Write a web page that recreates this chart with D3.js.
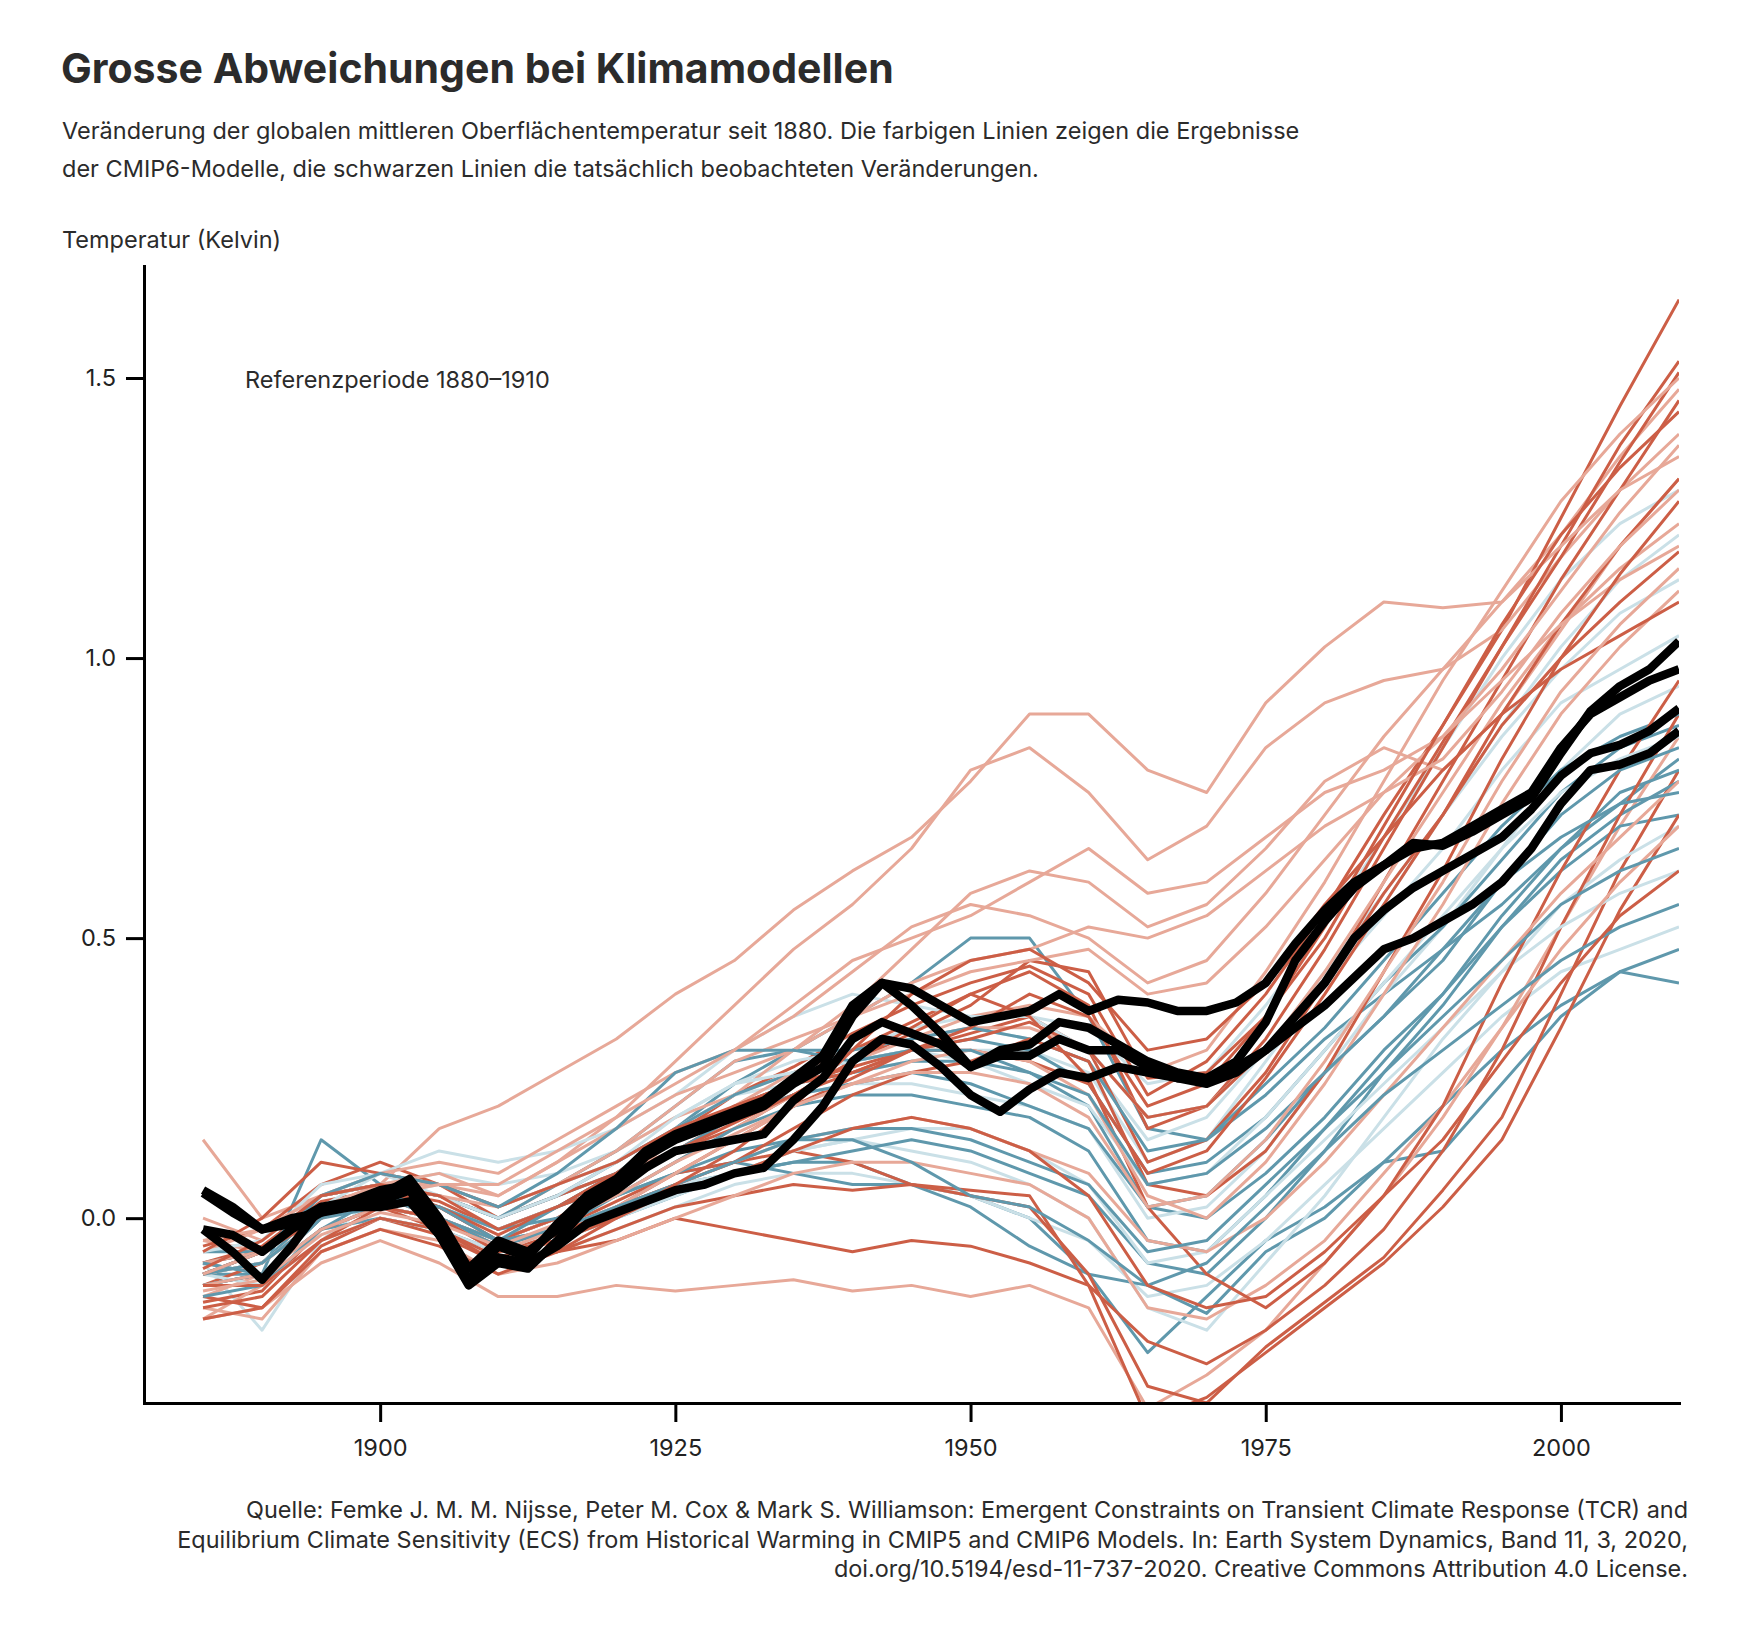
<!DOCTYPE html>
<html>
<head>
<meta charset="utf-8">
<title>Grosse Abweichungen bei Klimamodellen</title>
<script src="https://cdn.jsdelivr.net/npm/d3@7"></script>
<style>
  body {margin: 0; background: #fff;}
  svg {display: block; font-family: Inter, "Noto Sans", sans-serif;}
  .title {font-size: 41px; font-weight: 700; fill: #2b2b2b;}
  .sub {font-size: 23.5px; fill: #2b2b2b;}
  .foot {font-size: 23.45px; fill: #2b2b2b;}
  .axis text {font-size: 23.5px; fill: #222; font-family: Inter, "Noto Sans", sans-serif;}
  .axis path, .axis line {stroke: #000; stroke-width: 3px;}
  .model {fill: none; stroke-width: 3px; stroke-linejoin: round;}
  .obs {fill: none; stroke: #000; stroke-width: 8.5px; stroke-linejoin: round;}
</style>
</head>
<body>
<script>
var W = 1759, H = 1643;

// model years (5-year steps)
var years = [1885, 1890, 1895, 1900, 1905, 1910, 1915, 1920, 1925, 1930, 1935, 1940, 1945,
             1950, 1955, 1960, 1965, 1970, 1975, 1980, 1985, 1990, 1995, 2000, 2005, 2010];

var darkRed = [
  [-0.08,-0.05,0.03,0.05,0.03,-0.02,0.02,0.08,0.15,0.22,0.27,0.33,0.38,0.42,0.45,0.40,0.22,0.28,0.40,0.55,0.72,0.88,1.05,1.25,1.45,1.64],
  [-0.12,-0.08,0.00,0.06,0.02,-0.04,0.00,0.05,0.12,0.18,0.24,0.30,0.35,0.40,0.44,0.38,0.16,0.20,0.32,0.48,0.66,0.84,1.02,1.20,1.38,1.53],
  [-0.05,-0.02,0.06,0.10,0.06,0.00,0.04,0.08,0.12,0.16,0.22,0.28,0.33,0.38,0.46,0.44,0.25,0.26,0.36,0.50,0.68,0.85,1.02,1.18,1.35,1.51],
  [-0.15,-0.13,-0.02,0.02,0.00,-0.06,-0.03,0.02,0.08,0.14,0.20,0.25,0.30,0.33,0.36,0.30,0.10,0.14,0.26,0.42,0.60,0.78,0.96,1.14,1.30,1.46],
  [-0.10,-0.06,0.02,0.04,0.00,-0.05,-0.02,0.03,0.08,0.10,0.12,0.10,0.06,0.04,0.02,-0.10,-0.30,-0.33,-0.23,-0.15,-0.07,0.05,0.18,0.40,0.62,0.80],
  [-0.14,-0.16,-0.05,0.00,-0.03,-0.08,-0.06,-0.02,0.02,0.04,0.06,0.05,0.06,0.05,0.04,-0.12,-0.36,-0.32,-0.24,-0.16,-0.08,0.02,0.14,0.34,0.55,0.72],
  [-0.12,-0.10,-0.02,0.02,-0.02,-0.08,-0.06,-0.04,0.00,-0.02,-0.04,-0.06,-0.04,-0.05,-0.08,-0.12,-0.22,-0.26,-0.20,-0.12,-0.02,0.12,0.30,0.52,0.72,0.90],
  [-0.08,-0.06,0.02,0.04,0.02,-0.04,0.00,0.06,0.12,0.18,0.22,0.28,0.34,0.40,0.36,0.25,0.02,-0.10,-0.16,-0.08,0.04,0.20,0.42,0.62,0.80,0.96],
  [-0.10,-0.06,0.00,0.05,0.02,-0.03,0.02,0.08,0.14,0.20,0.24,0.27,0.30,0.30,0.28,0.24,0.08,0.12,0.25,0.40,0.56,0.72,0.90,1.06,1.20,1.32],
  [-0.16,-0.14,-0.04,0.00,-0.02,-0.07,-0.04,0.02,0.06,0.10,0.16,0.22,0.26,0.28,0.32,0.28,0.06,0.04,0.12,0.26,0.44,0.62,0.82,1.00,1.15,1.28],
  [-0.06,0.00,0.10,0.08,0.06,0.02,0.06,0.10,0.16,0.20,0.24,0.26,0.30,0.32,0.35,0.30,0.18,0.20,0.30,0.42,0.58,0.72,0.88,1.00,1.10,1.19],
  [-0.12,-0.12,-0.04,0.02,0.00,-0.06,-0.04,0.00,0.06,0.12,0.20,0.30,0.40,0.46,0.48,0.42,0.30,0.32,0.42,0.56,0.68,0.80,0.90,0.98,1.04,1.10],
  [-0.18,-0.16,-0.06,-0.02,-0.05,-0.10,-0.06,0.00,0.05,0.08,0.12,0.16,0.18,0.16,0.12,0.04,-0.12,-0.16,-0.14,-0.06,0.04,0.14,0.28,0.42,0.54,0.62],
  [-0.09,-0.04,0.04,0.06,0.04,-0.02,0.02,0.06,0.12,0.17,0.22,0.26,0.30,0.34,0.40,0.36,0.20,0.24,0.36,0.52,0.70,0.88,1.06,1.22,1.34,1.44]
];

var lightRed = [
  [0.14,0.00,0.04,0.06,0.16,0.20,0.26,0.32,0.40,0.46,0.55,0.62,0.68,0.78,0.90,0.90,0.80,0.76,0.92,1.02,1.10,1.09,1.10,1.22,1.36,1.48],
  [0.00,-0.04,0.04,0.06,0.06,0.04,0.10,0.18,0.28,0.38,0.48,0.56,0.66,0.80,0.84,0.76,0.64,0.70,0.84,0.92,0.96,0.98,1.05,1.18,1.30,1.40],
  [-0.04,-0.06,0.02,0.06,0.04,0.00,0.06,0.12,0.18,0.22,0.30,0.38,0.48,0.58,0.62,0.60,0.52,0.56,0.66,0.78,0.84,0.80,0.90,1.05,1.20,1.32],
  [-0.18,-0.16,-0.08,-0.04,-0.08,-0.14,-0.14,-0.12,-0.13,-0.12,-0.11,-0.13,-0.12,-0.14,-0.12,-0.16,-0.34,-0.28,-0.20,-0.08,0.04,0.18,0.34,0.52,0.70,0.86],
  [-0.18,-0.12,-0.02,0.02,0.00,-0.04,0.00,0.04,0.10,0.16,0.22,0.28,0.32,0.36,0.38,0.36,0.26,0.30,0.44,0.60,0.78,0.96,1.12,1.28,1.40,1.50],
  [-0.14,-0.10,0.00,0.04,0.02,-0.04,0.00,0.06,0.14,0.20,0.26,0.30,0.32,0.34,0.34,0.30,0.18,0.20,0.30,0.44,0.60,0.76,0.92,1.06,1.16,1.24],
  [-0.06,-0.02,0.04,0.08,0.10,0.08,0.14,0.20,0.26,0.30,0.36,0.44,0.52,0.56,0.54,0.50,0.42,0.46,0.58,0.72,0.86,0.98,1.10,1.20,1.30,1.36],
  [-0.16,-0.18,-0.06,-0.02,-0.04,-0.10,-0.08,-0.04,0.00,0.04,0.08,0.10,0.10,0.08,0.06,0.00,-0.16,-0.18,-0.12,-0.04,0.08,0.20,0.34,0.48,0.60,0.70],
  [-0.10,-0.08,0.00,0.04,0.00,-0.06,-0.02,0.02,0.06,0.10,0.14,0.16,0.18,0.16,0.12,0.08,-0.04,-0.06,0.00,0.10,0.22,0.34,0.46,0.58,0.68,0.78],
  [-0.08,-0.06,0.02,0.06,0.04,0.02,0.06,0.12,0.20,0.28,0.32,0.36,0.40,0.44,0.46,0.48,0.40,0.42,0.52,0.64,0.76,0.86,0.96,1.06,1.14,1.20],
  [-0.12,-0.10,-0.02,0.02,0.00,-0.06,-0.04,0.02,0.08,0.14,0.20,0.24,0.28,0.30,0.28,0.22,0.04,0.00,0.10,0.24,0.40,0.56,0.74,0.90,1.02,1.12],
  [-0.04,-0.02,0.04,0.06,0.08,0.04,0.10,0.16,0.22,0.26,0.30,0.36,0.42,0.46,0.48,0.52,0.50,0.54,0.62,0.70,0.76,0.82,0.94,1.08,1.20,1.30],
  [-0.10,-0.06,0.02,0.04,0.06,0.06,0.12,0.18,0.24,0.30,0.38,0.46,0.50,0.54,0.60,0.66,0.58,0.60,0.68,0.76,0.80,0.86,0.98,1.12,1.26,1.38],
  [-0.13,-0.11,-0.03,0.01,-0.01,-0.05,-0.01,0.04,0.10,0.15,0.20,0.24,0.26,0.26,0.24,0.18,0.02,0.04,0.14,0.28,0.44,0.60,0.78,0.94,1.06,1.16]
];

var darkBlue = [
  [-0.10,-0.10,0.14,0.06,0.04,0.00,0.04,0.08,0.16,0.24,0.30,0.36,0.42,0.50,0.50,0.36,0.16,0.14,0.22,0.32,0.40,0.48,0.56,0.66,0.74,0.82],
  [-0.08,-0.10,0.00,0.04,0.00,-0.04,-0.02,0.02,0.06,0.08,0.10,0.10,0.06,0.04,0.00,-0.10,-0.24,-0.14,-0.04,0.02,0.10,0.20,0.30,0.38,0.44,0.48],
  [-0.12,-0.12,-0.02,0.02,0.00,-0.04,0.00,0.04,0.08,0.10,0.08,0.06,0.06,0.02,-0.05,-0.10,-0.12,-0.17,-0.06,0.00,0.10,0.12,0.24,0.36,0.44,0.42],
  [-0.10,-0.08,0.02,0.04,0.02,-0.02,0.02,0.08,0.14,0.20,0.24,0.26,0.28,0.28,0.26,0.20,0.02,0.00,0.08,0.18,0.30,0.40,0.52,0.62,0.70,0.72],
  [-0.06,-0.06,0.04,0.06,0.04,0.00,0.04,0.10,0.16,0.22,0.26,0.28,0.30,0.32,0.30,0.24,0.08,0.10,0.18,0.30,0.42,0.52,0.64,0.76,0.84,0.88],
  [-0.12,-0.10,0.00,0.02,0.00,-0.05,-0.02,0.04,0.10,0.16,0.20,0.22,0.22,0.20,0.18,0.12,-0.04,-0.06,0.04,0.16,0.28,0.40,0.54,0.66,0.76,0.80],
  [-0.14,-0.12,-0.02,0.00,-0.02,-0.06,-0.04,0.00,0.04,0.08,0.10,0.12,0.14,0.12,0.08,0.04,-0.08,-0.10,0.00,0.12,0.26,0.38,0.52,0.64,0.72,0.78],
  [-0.08,-0.06,0.04,0.06,0.04,0.00,0.06,0.12,0.20,0.28,0.30,0.30,0.32,0.34,0.32,0.28,0.12,0.14,0.24,0.34,0.46,0.58,0.70,0.80,0.86,0.90],
  [-0.10,-0.08,0.00,0.04,0.02,-0.02,0.00,0.04,0.08,0.12,0.14,0.14,0.10,0.04,0.02,-0.04,-0.12,-0.08,0.02,0.12,0.22,0.30,0.38,0.46,0.52,0.56],
  [-0.12,-0.10,-0.02,0.04,0.02,-0.04,0.02,0.06,0.12,0.18,0.22,0.24,0.26,0.24,0.20,0.16,0.02,0.04,0.14,0.26,0.36,0.46,0.60,0.72,0.80,0.84],
  [-0.08,-0.10,0.00,0.04,0.00,-0.04,-0.02,0.02,0.06,0.10,0.14,0.16,0.16,0.14,0.10,0.06,-0.06,-0.04,0.06,0.16,0.26,0.36,0.46,0.56,0.62,0.66],
  [-0.10,-0.06,0.04,0.08,0.06,0.02,0.08,0.16,0.26,0.30,0.30,0.28,0.30,0.30,0.26,0.22,0.06,0.08,0.16,0.26,0.36,0.48,0.60,0.68,0.74,0.76]
];

var lightBlue = [
  [-0.08,-0.20,-0.04,0.04,0.06,0.02,0.06,0.10,0.16,0.22,0.26,0.30,0.34,0.36,0.36,0.34,0.24,0.26,0.38,0.52,0.68,0.84,1.00,1.14,1.24,1.30],
  [-0.10,-0.08,0.02,0.06,0.08,0.06,0.08,0.12,0.18,0.24,0.28,0.30,0.32,0.34,0.32,0.28,0.14,0.18,0.30,0.44,0.58,0.72,0.86,0.98,1.08,1.14],
  [-0.12,-0.10,-0.02,0.00,-0.02,-0.08,-0.06,-0.02,0.02,0.06,0.08,0.08,0.06,0.04,0.00,-0.04,-0.14,-0.12,-0.04,0.06,0.16,0.26,0.36,0.44,0.48,0.52],
  [-0.06,-0.04,0.04,0.08,0.06,0.02,0.06,0.10,0.16,0.22,0.24,0.26,0.28,0.30,0.30,0.26,0.10,0.14,0.28,0.42,0.56,0.72,0.88,1.02,1.14,1.22],
  [-0.10,-0.08,0.00,0.04,0.02,-0.02,0.02,0.06,0.12,0.18,0.22,0.24,0.24,0.22,0.20,0.16,0.00,0.02,0.12,0.26,0.40,0.52,0.66,0.80,0.90,0.95],
  [-0.12,-0.12,-0.02,0.02,0.00,-0.06,-0.02,0.02,0.06,0.08,0.12,0.14,0.12,0.10,0.06,0.00,-0.16,-0.20,-0.08,0.04,0.18,0.32,0.44,0.56,0.64,0.70],
  [-0.08,-0.06,0.02,0.08,0.12,0.10,0.12,0.16,0.22,0.30,0.36,0.40,0.38,0.36,0.36,0.30,0.18,0.20,0.30,0.42,0.54,0.66,0.80,0.92,0.98,1.04],
  [-0.10,-0.12,-0.04,0.00,-0.02,-0.06,-0.04,0.00,0.04,0.08,0.12,0.14,0.16,0.16,0.12,0.06,-0.08,-0.06,0.04,0.14,0.24,0.34,0.44,0.52,0.58,0.62],
  [-0.06,-0.04,0.06,0.08,0.04,0.00,0.04,0.10,0.18,0.24,0.26,0.28,0.30,0.28,0.24,0.20,0.06,0.08,0.18,0.30,0.42,0.54,0.66,0.76,0.82,0.86]
];

// observations (2.5-year steps)
var obsYears = [1885, 1887.5, 1890, 1892.5, 1895, 1897.5, 1900, 1902.5, 1905, 1907.5, 1910, 1912.5, 1915,
                1917.5, 1920, 1922.5, 1925, 1927.5, 1930, 1932.5, 1935, 1937.5, 1940, 1942.5, 1945, 1947.5,
                1950, 1952.5, 1955, 1957.5, 1960, 1962.5, 1965, 1967.5, 1970, 1972.5, 1975, 1977.5, 1980,
                1982.5, 1985, 1987.5, 1990, 1992.5, 1995, 1997.5, 2000, 2002.5, 2005, 2007.5, 2010];

var obsA = [0.05,0.02,-0.02,-0.01,0.02,0.03,0.05,0.06,-0.02,-0.11,-0.05,-0.07,-0.01,0.04,0.07,0.12,0.15,0.17,0.19,0.21,0.25,0.29,0.38,0.42,0.41,0.38,
            0.35,0.36,0.37,0.40,0.37,0.39,0.385,0.37,0.37,0.385,0.42,0.49,0.55,0.60,0.63,0.67,0.665,0.69,0.72,0.75,0.83,0.905,0.95,0.98,1.03];
var obsB = [0.045,0.01,-0.02,0.00,0.01,0.03,0.04,0.07,0.00,-0.09,-0.04,-0.06,-0.02,0.03,0.06,0.11,0.14,0.16,0.18,0.20,0.24,0.27,0.36,0.42,0.38,0.33,
            0.27,0.30,0.31,0.35,0.34,0.31,0.28,0.26,0.25,0.28,0.35,0.46,0.53,0.59,0.63,0.66,0.67,0.70,0.73,0.76,0.84,0.90,0.93,0.96,0.98];
var obsC = [-0.02,-0.06,-0.11,-0.05,0.02,0.02,0.03,0.05,-0.03,-0.12,-0.08,-0.09,-0.04,0.02,0.05,0.09,0.12,0.13,0.14,0.15,0.21,0.25,0.32,0.35,0.33,0.31,
            0.27,0.29,0.29,0.32,0.30,0.30,0.27,0.25,0.25,0.27,0.30,0.36,0.42,0.50,0.55,0.59,0.62,0.65,0.68,0.73,0.79,0.83,0.845,0.87,0.91];
var obsD = [-0.02,-0.03,-0.06,-0.02,0.01,0.02,0.02,0.03,-0.03,-0.11,-0.07,-0.08,-0.05,-0.01,0.01,0.03,0.05,0.06,0.08,0.09,0.14,0.20,0.28,0.32,0.31,0.27,
            0.22,0.19,0.23,0.26,0.25,0.27,0.26,0.25,0.24,0.26,0.30,0.34,0.38,0.43,0.48,0.50,0.53,0.56,0.60,0.66,0.74,0.80,0.81,0.83,0.87];

var yTicks = [0.0, 0.5, 1.0, 1.5];
var xTicks = [1900, 1925, 1950, 1975, 2000];

var colors = {darkRed: "#cc5e46", lightRed: "#e7a898", darkBlue: "#5f98ac", lightBlue: "#cae0e7"};

var svg = d3.select("body").append("svg").attr("width", W).attr("height", H);
svg.append("rect").attr("width", W).attr("height", H).attr("fill", "#fff");

var x = d3.scaleLinear().domain([1880, 2010]).range([144, 1679]);
var y = d3.scaleLinear().domain([-0.33, 1.70]).range([1403, 266]);

svg.append("defs").append("clipPath").attr("id", "plot")
  .append("rect").attr("x", 144).attr("y", 266).attr("width", 1679 - 144).attr("height", 1403 - 266);

// headings
svg.append("text").attr("class", "title").attr("x", 61).attr("y", 83).text("Grosse Abweichungen bei Klimamodellen");
svg.append("text").attr("class", "sub").attr("x", 62).attr("y", 139)
  .text("Veränderung der globalen mittleren Oberflächentemperatur seit 1880. Die farbigen Linien zeigen die Ergebnisse");
svg.append("text").attr("class", "sub").attr("x", 62).attr("y", 177)
  .text("der CMIP6-Modelle, die schwarzen Linien die tatsächlich beobachteten Veränderungen.");
svg.append("text").attr("class", "sub").attr("x", 62).attr("y", 248).text("Temperatur (Kelvin)");
svg.append("text").attr("class", "sub").attr("x", 245).attr("y", 388).text("Referenzperiode 1880–1910");

var line = d3.line()
  .x(function(d) { return x(d[0]); })
  .y(function(d) { return y(d[1]); });

// interleave the groups so that no colour sits entirely on top
var models = [];
for (var i = 0; i < darkRed.length; i++) {
  if (lightBlue[i]) models.push({c: colors.lightBlue, v: lightBlue[i]});
  if (lightRed[i]) models.push({c: colors.lightRed, v: lightRed[i]});
  if (darkBlue[i]) models.push({c: colors.darkBlue, v: darkBlue[i]});
  if (darkRed[i]) models.push({c: colors.darkRed, v: darkRed[i]});
}

var lines = svg.append("g").attr("clip-path", "url(#plot)");

lines.append("g").selectAll("path")
  .data(models)
  .enter().append("path")
    .attr("class", "model")
    .attr("stroke", function(d) { return d.c; })
    .attr("d", function(d) { return line(d3.zip(years, d.v)); });

lines.append("g").selectAll("path")
  .data([obsA, obsB, obsC, obsD])
  .enter().append("path")
    .attr("class", "obs")
    .attr("d", function(s) { return line(d3.zip(obsYears, s)); });

// axes
svg.append("g").attr("class", "axis")
  .attr("transform", "translate(144,0)")
  .call(d3.axisLeft(y).tickValues(yTicks).tickFormat(d3.format(".1f")).tickSize(18).tickSizeOuter(0).tickPadding(10));

svg.append("g").attr("class", "axis")
  .attr("transform", "translate(0,1403)")
  .call(d3.axisBottom(x).tickValues(xTicks).tickFormat(d3.format("d")).tickSize(19).tickSizeOuter(0).tickPadding(17));

svg.selectAll(".axis .domain").attr("stroke-linecap", "square");

// source
var source = [
  "Quelle: Femke J. M. M. Nijsse, Peter M. Cox & Mark S. Williamson: Emergent Constraints on Transient Climate Response (TCR) and",
  "Equilibrium Climate Sensitivity (ECS) from Historical Warming in CMIP5 and CMIP6 Models. In: Earth System Dynamics, Band 11, 3, 2020,",
  "doi.org/10.5194/esd-11-737-2020. Creative Commons Attribution 4.0 License."
];
svg.append("g").selectAll("text")
  .data(source)
  .enter().append("text")
    .attr("class", "foot")
    .attr("text-anchor", "end")
    .attr("x", 1688)
    .attr("y", function(d, i) { return 1518 + i * 29.5; })
    .text(function(d) { return d; });
</script>
</body>
</html>
